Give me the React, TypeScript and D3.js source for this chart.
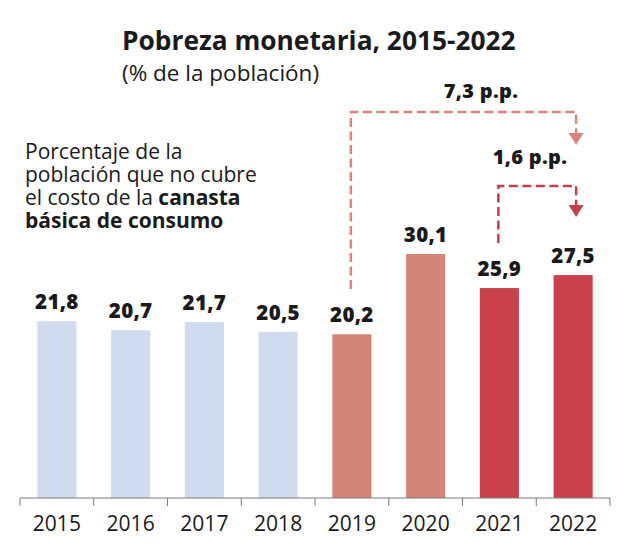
import React from "react";
import * as d3 from "d3";

const years = ["2015", "2016", "2017", "2018", "2019", "2020", "2021", "2022"];
const values = [21.8, 20.7, 21.7, 20.5, 20.2, 30.1, 25.9, 27.5];
const valueLabels = ["21,8", "20,7", "21,7", "20,5", "20,2", "30,1", "25,9", "27,5"];
const barColors = ["#d0dcee", "#d0dcee", "#d0dcee", "#d0dcee", "#d4857a", "#d4857a", "#c8414c", "#c8414c"];

const changeFrom = ["2019", "2021"];
const changeTo = ["2022", "2022"];
const changeLabels = ["7,3 p.p.", "1,6 p.p."];
const changeColors = ["#d9857c", "#c2404a"];

const noteLines = [
  [{ t: "Porcentaje de la", b: false }],
  [{ t: "población que no cubre", b: false }],
  [{ t: "el costo de la ", b: false }, { t: "canasta", b: true }],
  [{ t: "básica de consumo", b: true }],
];

const W = 640;
const H = 555;
const FONT = "'Open Sans', sans-serif";

export default function App() {
  const x0 = 20, x1 = 610, baseY = 498;
  const x = d3.scaleBand<string>().domain(years).range([x0, x1]).paddingInner(0.47).paddingOuter(0.235);
  const y = d3.scaleLinear().domain([0, 30.1]).range([baseY, 254]);
  const step = x.step();
  const boundaries = d3.range(years.length + 1).map((i) => x0 + i * step);
  const cx = (yr: string) => (x(yr) as number) + x.bandwidth() / 2;

  // annotation geometry
  const arrowTops = [112, 186];
  const arrowStarts = [289, 243];
  const arrowTips = [145, 217];
  const labelY = [98, 164];
  const labelX = [481, 530];

  return (
    <svg width={W} height={H} style={{ display: "block", position: "absolute", left: 0, top: 0 }} fontFamily={FONT}>
      <rect width={W} height={H} fill="#fff" />
      <text x={122} y={50} fontSize={26.3} fontWeight={700} fill="#1a1a1a">Pobreza monetaria, 2015-2022</text>
      <text x={122} y={81} fontSize={22.5} fill="#1a1a1a">(% de la población)</text>

      {noteLines.map((line, i) => (
        <text key={i} x={25} y={158.5 + i * 23} fontSize={21} fill="#1a1a1a">
          {line.map((s, j) => (
            <tspan key={j} fontWeight={s.b ? 700 : 400}>{s.t}</tspan>
          ))}
        </text>
      ))}

      {years.map((yr, i) => (
        <g key={yr}>
          <rect x={x(yr)} y={y(values[i])} width={x.bandwidth()} height={baseY - y(values[i])} fill={barColors[i]} />
          <text x={cx(yr)} y={y(values[i]) - 12} textAnchor="middle" fontSize={20.5} fontWeight={800} letterSpacing={0.3} fill="#1a1a1a">
            {valueLabels[i]}
          </text>
          <text x={cx(yr)} y={531} textAnchor="middle" fontSize={21} fill="#1a1a1a">{yr}</text>
        </g>
      ))}

      <line x1={x0} x2={x1} y1={baseY} y2={baseY} stroke="#7a7a7a" strokeWidth={1} />
      {boundaries.map((bx, i) => (
        <line key={i} x1={bx} x2={bx} y1={baseY} y2={baseY + 8} stroke="#7a7a7a" strokeWidth={1} />
      ))}

      {changeFrom.map((f, i) => {
        const xa = cx(f) - 1;
        const xb = cx(changeTo[i]) + 3;
        const top = arrowTops[i];
        const tip = arrowTips[i];
        const head = 12;
        const path = `M${xa},${arrowStarts[i]} V${top} H${xb} V${tip - head}`;
        return (
          <g key={i}>
            <path d={path} fill="none" stroke={changeColors[i]} strokeWidth={2.5} strokeDasharray="9,4.5" />
            <path d={`M${xb - 7.5},${tip - head} L${xb + 7.5},${tip - head} L${xb},${tip} Z`} fill={changeColors[i]} />
            <text x={labelX[i]} y={labelY[i]} textAnchor="middle" fontSize={20} fontWeight={800} letterSpacing={0.3} fill="#1a1a1a">
              {changeLabels[i]}
            </text>
          </g>
        );
      })}
    </svg>
  );
}
